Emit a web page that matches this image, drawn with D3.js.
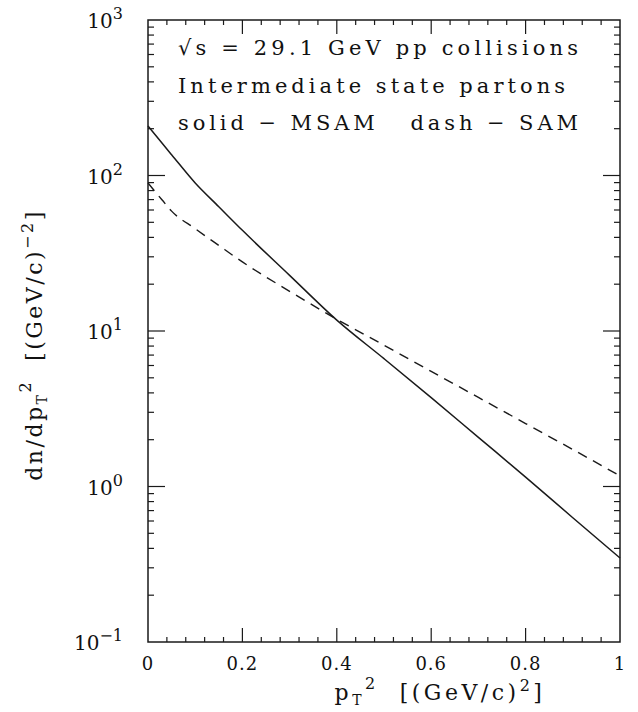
<!DOCTYPE html>
<html><head><meta charset="utf-8">
<script src="https://cdn.jsdelivr.net/npm/d3@7"></script>
<style>body{margin:0;background:#fff}text{font-family:"DejaVu Serif","Liberation Serif",serif;fill:#111}</style>
</head><body><svg id="c" width="638" height="712"></svg>
<script>
const pt2 = [0, 0.03, 0.05, 0.1, 0.15, 0.2, 0.3, 0.4, 0.5, 0.6, 0.7, 0.8, 0.9, 1.0];
const msam = [208, 161, 136, 89.5, 63, 44.4, 22.8, 11.75, 6.64, 3.73, 2.07, 1.15, 0.63, 0.347];
const sam  = [89.5, 69.5, 59, 45.5, 35.5, 27.8, 18, 11.9, 8.1, 5.5, 3.74, 2.54, 1.73, 1.17];
const xTicks = [0, 0.2, 0.4, 0.6, 0.8, 1];
const xTickLabels = ["0", "0.2", "0.4", "0.6", "0.8", "1"];
const yExps = [-1, 0, 1, 2, 3];
const legendLines = ["\u221As = 29.1 GeV pp collisions", "Intermediate state partons", "solid \u2212 MSAM   dash \u2212 SAM"];

const svg = d3.select("#c");
const L = 148, R = 620, T = 20, B = 642;
const x = d3.scaleLinear().domain([0, 1]).range([L, R]);
const y = d3.scaleLog().domain([0.1, 1000]).range([B, T]);
const stroke = "#1a1a1a";

svg.append("rect").attr("x", L).attr("y", T).attr("width", R - L).attr("height", B - T)
  .attr("fill", "none").attr("stroke", stroke).attr("stroke-width", 1.5);

const xMinor = d3.range(0, 1.0001, 0.04).map(v => +v.toFixed(2));
const g = svg.append("g").attr("stroke", stroke).attr("stroke-width", 1.2);
xMinor.forEach(v => {
  const major = Math.abs(v * 5 - Math.round(v * 5)) < 1e-6;
  if (v === 0 || v === 1) return;
  const len = major ? 14 : 5;
  g.append("line").attr("x1", x(v)).attr("x2", x(v)).attr("y1", B).attr("y2", B - len);
  g.append("line").attr("x1", x(v)).attr("x2", x(v)).attr("y1", T).attr("y2", T + len);
});
yExps.forEach(e => {
  if (e < 3) {
    for (let k = 1; k <= 9; k++) {
      const v = k * Math.pow(10, e);
      if (k === 1 && e === -1) continue;
      const len = k === 1 ? 17 : 6;
      g.append("line").attr("x1", L).attr("x2", L + len).attr("y1", y(v)).attr("y2", y(v));
      g.append("line").attr("x1", R).attr("x2", R - len).attr("y1", y(v)).attr("y2", y(v));
    }
  }
});

svg.append("g").selectAll("text").data(xTicks).join("text")
  .attr("x", d => x(d)).attr("y", 670).attr("text-anchor", "middle")
  .attr("font-size", 18).attr("letter-spacing", 1).text((d, i) => xTickLabels[i]);

const yl = svg.append("g").selectAll("text").data(yExps).join("text")
  .attr("x", 123).attr("y", d => y(Math.pow(10, d)) + 8).attr("text-anchor", "end")
  .attr("font-size", 20);
yl.append("tspan").text("10");
yl.append("tspan").attr("dy", -9).attr("font-size", 16).text(d => d < 0 ? "\u2212" + Math.abs(d) : String(d));

const line = d3.line().x((d, i) => x(pt2[i])).y(d => y(d)).curve(d3.curveMonotoneX);
svg.append("path").datum(msam).attr("d", line).attr("fill", "none")
  .attr("stroke", stroke).attr("stroke-width", 1.5);
svg.append("path").datum(sam).attr("d", line).attr("fill", "none")
  .attr("stroke", stroke).attr("stroke-width", 1.4).attr("stroke-dasharray", "10,7");

const fs = 21;
const legLens = [400, 387, 400];
const legY = [55, 93, 130];
legendLines.forEach((t, i) => {
  svg.append("text").attr("x", 178).attr("y", legY[i]).attr("font-size", fs)
    .attr("xml:space", "preserve")
    .attr("textLength", legLens[i]).attr("lengthAdjust", "spacing").text(t);
});

const xt = svg.append("text").attr("x", 440).attr("y", 700).attr("text-anchor", "middle")
  .attr("font-size", 22).attr("letter-spacing", 3.5);
xt.append("tspan").text("p");
xt.append("tspan").attr("dy", 5).attr("font-size", 14).text("T");
xt.append("tspan").attr("dy", -16).attr("font-size", 16).text("2");
xt.append("tspan").attr("dy", 11).attr("xml:space", "preserve").text("  [(GeV/c)");
xt.append("tspan").attr("dy", -9).attr("font-size", 16).text("2");
xt.append("tspan").attr("dy", 9).text("]");

const yt = svg.append("text").attr("transform", "translate(42,345) rotate(-90)")
  .attr("text-anchor", "middle").attr("font-size", 22).attr("letter-spacing", 2.5);
yt.append("tspan").text("dn/dp");
yt.append("tspan").attr("dy", 5).attr("font-size", 14).text("T");
yt.append("tspan").attr("dy", -16).attr("font-size", 16).text("2");
yt.append("tspan").attr("dy", 11).attr("xml:space", "preserve").text("  [(GeV/c)");
yt.append("tspan").attr("dy", -9).attr("font-size", 16).text("\u22122");
yt.append("tspan").attr("dy", 9).text("]");
</script></body></html>
